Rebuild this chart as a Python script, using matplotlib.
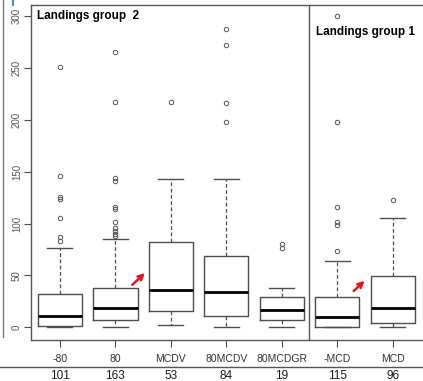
import numpy as np
import matplotlib
matplotlib.use('Agg')
import matplotlib.pyplot as plt
from matplotlib.lines import Line2D

plt.rcParams['font.family'] = ['Liberation Sans', 'DejaVu Sans']

groups = ['-80', '80', 'MCDV', '80MCDV', '80MCDGR', '-MCD', 'MCD']
counts = [101, 163, 53, 84, 19, 115, 96]

q1 = [1.5, 7, 15.5, 10.5, 6.5, 0.5, 4]
med = [10.5, 18, 36, 34, 16, 9.5, 18.5]
q3 = [32, 38, 82, 69, 29, 29, 49.5]
whis_lo = [0, 0, 2, 0, 0, 0, 0]
whis_hi = [76, 85, 143, 143, 38, 63.5, 105]
outliers = [
    [251, 146, 126, 124, 105, 87, 83],
    [266, 217, 144, 141, 116, 114, 101, 96, 93, 90, 88],
    [217],
    [288, 272, 216, 198],
    [80, 76],
    [300, 198, 116, 101, 99, 73],
    [123],
]

fig = plt.figure(figsize=(4.23, 3.81), dpi=100)
# frame runs off the right edge of the figure
ax = fig.add_axes([31 / 423, 41 / 381, 395 / 423, 335 / 381])

stats = []
for i in range(len(groups)):
    stats.append(dict(label=groups[i], q1=q1[i], med=med[i], q3=q3[i],
                      whislo=whis_lo[i], whishi=whis_hi[i], fliers=outliers[i]))

edge = '#4d4d4d'
ax.bxp(stats, positions=np.arange(1, len(groups) + 1), widths=0.8,
       showfliers=True, patch_artist=False,
       boxprops=dict(color=edge, lw=1.0),
       medianprops=dict(color='black', lw=2.0),
       whiskerprops=dict(color=edge, lw=0.9, ls=(0, (3, 2))),
       capprops=dict(color=edge, lw=1.0),
       capwidths=0.45,
       flierprops=dict(marker='o', markersize=3.2, markerfacecolor='none',
                       markeredgecolor='#555555', markeredgewidth=0.7))

ax.set_xlim(0.48, 7.6)
ax.set_ylim(-12.5, 311)
ax.set_yticks(np.arange(0, 301, 50))
ax.set_xticks(np.arange(1, len(groups) + 1))
ax.set_xticklabels(groups)
ax.tick_params(axis='y', labelsize=7, labelcolor='#555555', color=edge,
               length=5, pad=1.5, labelrotation=90)
ax.tick_params(axis='x', labelsize=7.5, labelcolor='#333333', color=edge,
               length=5, pad=5)
for lab in ax.get_yticklabels():
    lab.set_va('center')
for s in ax.spines.values():
    s.set_color('#555555')
    s.set_linewidth(1.0)
ax.spines['right'].set_visible(False)

# divider between the two landing groups
ax.axvline(5.5, color='#555555', lw=1.0)

ax.text(0.58, 300, 'Landings group  2', fontsize=8.5,
        fontweight='bold', ha='left', va='center')
ax.text(5.62, 285, 'Landings group 1', fontsize=8.5,
        fontweight='bold', ha='left', va='center')

# red arrows pointing at the boxes
arrow = dict(arrowstyle='->', color='#e8141b', lw=1.8, mutation_scale=9)
ax.annotate('', xy=(2.57, 54), xytext=(2.27, 39), arrowprops=arrow)
ax.annotate('', xy=(6.53, 46.5), xytext=(6.26, 33), arrowprops=arrow)

# sample size row under the plot
fig.add_artist(Line2D([0, 1], [1 - 367 / 381] * 2, color='#555555', lw=1.0))
fig.add_artist(Line2D([2.5 / 423] * 2, [1 - 337 / 381, 1.0], color='#777777', lw=1.0))
fig.add_artist(Line2D([13 / 423] * 2, [1 - 5 / 381, 1.0], color='#3a8fd8', lw=1.5))
for i, n in enumerate(counts):
    xd = ax.transData.transform((i + 1, 0))[0]
    xf = fig.transFigure.inverted().transform((xd, 0))[0]
    fig.text(xf, 1 - 376 / 381, str(n), fontsize=8.5, color='#1a1a1a',
             ha='center', va='center')

fig.savefig('out.png', dpi=100)
